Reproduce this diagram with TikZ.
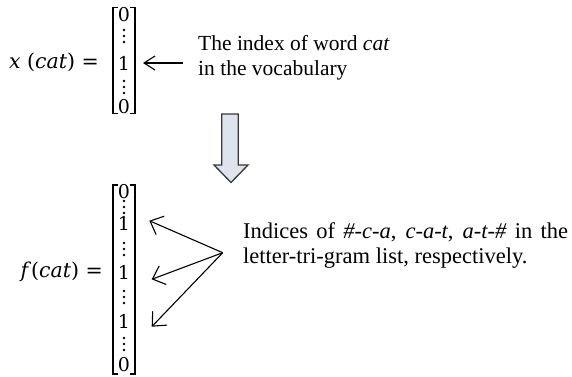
\documentclass[tikz,border=0pt]{standalone}
\usepackage{fontspec}
\setmainfont{Liberation Serif}
\newfontfamily\mathlike{DejaVu Serif}
\usetikzlibrary{arrows.meta}
\definecolor{arrowfill}{RGB}{222,228,238}
\definecolor{arrowline}{RGB}{55,55,55}
\begin{document}
\begin{tikzpicture}[x=1pt,y=-1pt,
  txt/.style={font=\fontsize{21.5}{25}\selectfont, inner sep=0pt},
  txtb/.style={font=\fontsize{22.5}{25}\selectfont, inner sep=0pt},
  lab/.style={font=\mathlike\fontsize{20.5}{24}\selectfont, inner sep=0pt},
  entry/.style={font=\mathlike\fontsize{19}{22}\selectfont, inner sep=0pt},
  vd/.style={minimum width=4pt, minimum height=17pt, inner sep=0pt,
    path picture={
      \fill (path picture bounding box.center) circle[radius=1.3pt];
      \fill ([yshift=6pt]path picture bounding box.center) circle[radius=1.3pt];
      \fill ([yshift=-6pt]path picture bounding box.center) circle[radius=1.3pt];}},
  bracket/.style={line width=1.4pt},
  ptr/.style={line width=1.1pt, -{Straight Barb[length=11pt,width=20pt]}},
  ptrtop/.style={line width=1.1pt, -{Straight Barb[length=11pt,width=14pt]}},
  bigarrow/.style={draw=arrowline, line width=1.3pt, fill=arrowfill, line join=miter}
]
\useasboundingbox (0,0) rectangle (572,376);

% ---------- top vector ----------
\node[lab, anchor=east] (xlab) at (99,62) {\textit{x} (\textit{cat}) =};
\draw[bracket] (118,7.5) -- (113,7.5) -- (113,113.5) -- (118,113.5);
\draw[bracket] (130,7.5) -- (135,7.5) -- (135,113.5) -- (130,113.5);
\node[entry] (a1) at (124,14.5) {0};
\node[vd]    (a2) at (124,36) {};
\node[entry] (a3) at (124,63) {1};
\node[vd]    (a4) at (124,87) {};
\node[entry] (a5) at (124,107) {0};

\coordinate (p0) at (183,63);
\coordinate (p0tip) at (143,63);
\draw[ptrtop] (p0) -- (p0tip);

\node[txt, anchor=base west] (t1) at (198,50) {The index of word \textit{cat}};
\node[txt, anchor=base west] (t2) at (198,75) {in the vocabulary};

% ---------- big arrow ----------
\draw[bigarrow] (221.7,114) -- (238.3,114) -- (238.3,165) -- (248,165)
  -- (231,182.5) -- (214,165) -- (221.7,165) -- cycle;

% ---------- bottom vector ----------
\node[lab, anchor=east] (flab) at (103,272) {\textit{f}(\textit{cat}) =};
\draw[bracket] (118,185) -- (113,185) -- (113,374) -- (118,374);
\draw[bracket] (130,185) -- (135,185) -- (135,374) -- (130,374);
\node[entry] (b1) at (124,192) {0};
\node[vd]    (b2) at (124,207) {};
\node[entry] (b3) at (124,223.5) {1};
\node[vd]    (b4) at (124,249) {};
\node[entry] (b5) at (124,272) {1};
\node[vd]    (b6) at (124,297) {};
\node[entry] (b7) at (124,321) {1};
\node[vd]    (b8) at (124,344) {};
\node[entry] (b9) at (124,365) {0};

\coordinate (conv) at (222.7,252.7);
\coordinate (q1) at (149.3,220.7);
\coordinate (q2) at (151.7,279.3);
\coordinate (q3) at (151.7,326.7);
\draw[ptr] (conv) -- (q1);
\draw[ptr] (conv) -- (q2);
\draw[ptr] (conv) -- (q3);

\node[txtb, anchor=base west] (u1) at (243,238)
  {\makebox[325pt][s]{Indices of \textit{\#-c-a}, \textit{c-a-t}, \textit{a-t-\#} in the}};
\node[txtb, anchor=base west] (u2) at (243,263) {letter-tri-gram list, respectively.};
\end{tikzpicture}
\end{document}
